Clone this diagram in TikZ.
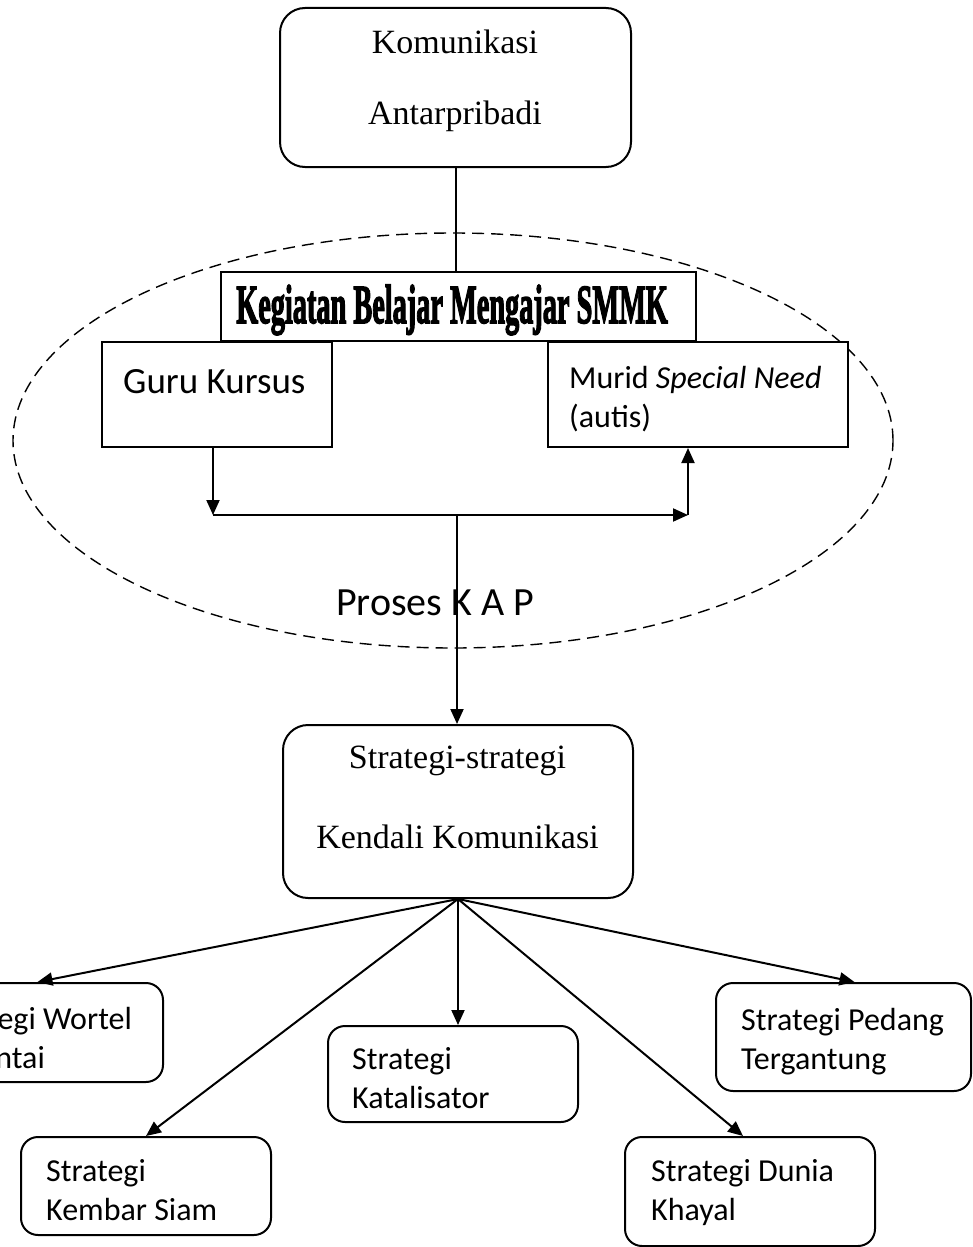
\documentclass[tikz,border=0pt]{standalone}
\usepackage{fontspec}
\setmainfont{Liberation Serif}
\newfontfamily\sansf{Carlito}
\newfontfamily\hdrf[FakeBold=3]{Liberation Serif Bold}
\usetikzlibrary{arrows.meta,calc,shapes.geometric}

\begin{document}
\begin{tikzpicture}[x=1pt,y=-1pt,
  lw/.style={line width=2pt},
  rbox/.style={draw, lw, fill=white, rounded corners=#1, inner sep=0pt},
  rbox/.default=25pt,
  sbox/.style={draw, lw, fill=white, inner sep=0pt},
  arr/.style={lw, -{Triangle[length=15pt,width=13pt]}},
  serif34/.style={font=\fontsize{34}{40}\selectfont, inner sep=0pt, anchor=base},
  sans32/.style={font=\sansf\fontsize{32}{39}\selectfont, inner sep=0pt, anchor=base west},
]
\useasboundingbox (0,0) rectangle (972,1247);
\clip (0,0) rectangle (972,1247);

% dashed ellipse
\node[ellipse, draw, dashed, dash pattern=on 12pt off 7pt, line width=1.4pt,
      minimum width=880pt, minimum height=415pt, inner sep=0pt] (proc) at (453,440.5) {};

% boxes
\node[rbox, minimum width=351pt, minimum height=159pt] (top) at (455.5,87.5) {};
\node[sbox, minimum width=475pt, minimum height=69pt] (header) at (458.5,306.5) {};
\node[sbox, minimum width=230pt, minimum height=105pt] (guru) at (217,394.5) {};
\node[sbox, minimum width=300pt, minimum height=105pt] (murid) at (698,394.5) {};
\node[rbox, minimum width=350pt, minimum height=173pt] (strat) at (458,811.5) {};
\node[rbox=17pt, minimum width=251pt, minimum height=99pt] (wortel) at (37.5,1032.5) {};
\node[rbox=17pt, minimum width=250pt, minimum height=98pt] (kembar) at (146,1186) {};
\node[rbox=17pt, minimum width=250pt, minimum height=96pt] (katal) at (453,1074) {};
\node[rbox=17pt, minimum width=250pt, minimum height=109pt] (dunia) at (750,1191.5) {};
\node[rbox=17pt, minimum width=255pt, minimum height=108pt] (pedang) at (843.5,1037) {};

% texts
\node[serif34] (t1) at (455,54) {Komunikasi};
\node[serif34] (t2) at (455,124) {Antarpribadi};
\node[inner sep=0pt, anchor=base] (th) at (452,323)
  {\scalebox{0.555}[1.08]{\hdrf\fontsize{51}{51}\selectfont Kegiatan Belajar Mengajar SMMK}};
\node[inner sep=0pt, anchor=base west, font=\sansf\fontsize{37}{44}\selectfont] (tg) at (123,393) {Guru Kursus};
\node[sans32] (tm1) at (569,388) {Murid {\itshape Special Need}};
\node[sans32] (tm2) at (569,427) {(autis)};
\node[inner sep=0pt, anchor=base west, font=\sansf\fontsize{40}{48}\selectfont] (tp) at (336,615) {Proses K A P};
\node[serif34] (ts1) at (457.5,768) {Strategi-strategi};
\node[serif34] (ts2) at (457.5,848) {Kendali Komunikasi};
\node[sans32] (w1) at (-64,1029) {Strategi Wortel};
\node[sans32] (w2) at (-64,1068) {Berantai};
\node[sans32] (k1) at (46,1181) {Strategi};
\node[sans32] (k2) at (46,1220) {Kembar Siam};
\node[sans32] (c1) at (352,1069) {Strategi};
\node[sans32] (c2) at (352,1108) {Katalisator};
\node[sans32] (d1) at (651,1181) {Strategi Dunia};
\node[sans32] (d2) at (651,1220) {Khayal};
\node[sans32] (p1) at (741,1030) {Strategi Pedang};
\node[sans32] (p2) at (741,1069) {Tergantung};

% connectors
\coordinate (j1) at (213,515);
\coordinate (j2) at (688,515);
\coordinate (j3) at (457,515);
\draw[lw] (top.south) -- (top.south |- header.north);
\draw[arr] (guru.south -| j1) -- (j1);
\draw[arr] (j1) -- (j2);
\draw[arr] (j2) -- (j2 |- murid.south);
\draw[arr] (j3) -- (j3 |- strat.north);

\draw[arr] (strat.south) -- (wortel.north);
\draw[arr] (strat.south) -- (kembar.north);
\draw[arr] (strat.south) -- (strat.south |- katal.north);
\draw[arr] (strat.south) -- ([xshift=-7pt]dunia.north);
\draw[arr] (strat.south) -- ([xshift=11pt]pedang.north);
\end{tikzpicture}
\end{document}
